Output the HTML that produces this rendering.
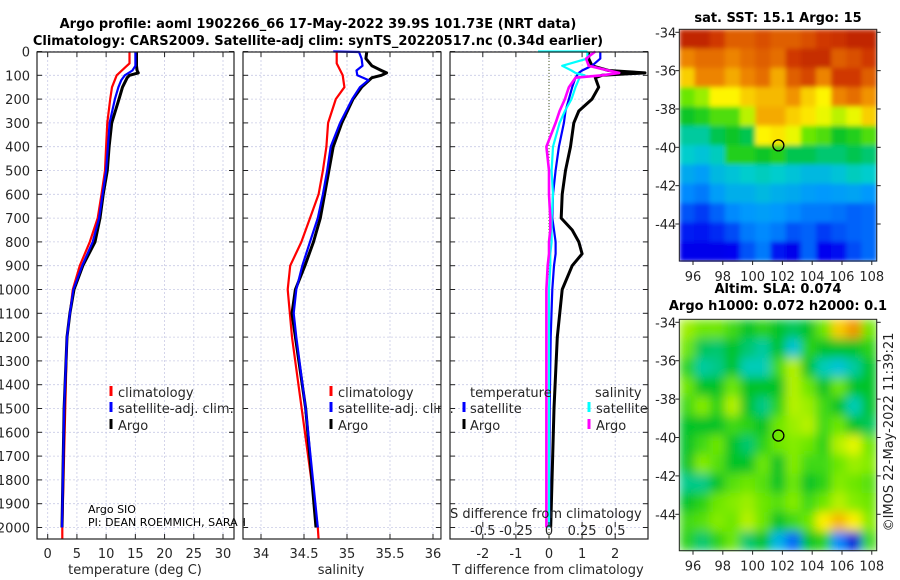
<!DOCTYPE html>
<html><head><meta charset="utf-8"><style>
html,body{margin:0;padding:0;background:#fff;}
svg{display:block;font-family:"DejaVu Sans","Liberation Sans",sans-serif;}
</style></head><body>
<svg id="fig" width="900" height="580" viewBox="0 0 900 580" xmlns="http://www.w3.org/2000/svg">
<defs>
<filter id="blurSla" x="0" y="0" width="1" height="1"><feGaussianBlur stdDeviation="5" edgeMode="duplicate"/></filter>
<filter id="blurSst" x="0" y="0" width="1" height="1"><feGaussianBlur stdDeviation="2.5" edgeMode="duplicate"/></filter>
</defs>
<text x="318" y="28" font-size="13" font-weight="bold" text-anchor="middle" fill="#000">Argo profile: aoml 1902266_66 17-May-2022 39.9S 101.73E (NRT data)</text>
<text x="318" y="45" font-size="13" font-weight="bold" text-anchor="middle" fill="#000">Climatology: CARS2009. Satellite-adj clim: synTS_20220517.nc (0.34d earlier)</text>
<g id="plots"></g>
<text x="778" y="22" font-size="13" font-weight="bold" text-anchor="middle">sat. SST: 15.1 Argo: 15</text>
<text x="778" y="293" font-size="13" font-weight="bold" text-anchor="middle">Altim. SLA: 0.074</text>
<text x="778" y="310" font-size="13" font-weight="bold" text-anchor="middle">Argo h1000: 0.072 h2000: 0.1</text>
<text x="0" y="0" font-size="13" text-anchor="middle" fill="#222" transform="translate(893,432) rotate(-90)">©IMOS 22-May-2022 11:39:21</text>
</svg>
<script>
// ---------- data ----------
const depthTicks=[0,100,200,300,400,500,600,700,800,900,1000,1100,1200,1300,1400,1500,1600,1700,1800,1900,2000];
const tempTicks=[0,5,10,15,20,25,30];
const salTicks=[34,34.5,35,35.5,36];
const salTickLabels=["34","34.5","35","35.5","36"];
const tdTicks=[-2,-1,0,1,2];
const sdTicks=[-0.5,-0.25,0,0.25,0.5];
const sdTickLabels=["-0.5","-0.25","0","0.25","0.5"];

const argoDepth=[0,30,60,80,90,100,110,150,200,300,400,500,600,700,800,900,1000,1100,1200,1500,2000];
const argoTemp=[15.2,15.2,15.2,15.3,15.5,14.0,13.6,12.8,12.2,10.95,10.5,10.2,9.5,8.95,8.1,6.0,4.5,3.8,3.3,2.8,2.45];
const argoSal=[35.23,35.22,35.29,35.4,35.46,35.4,35.29,35.17,35.07,34.94,34.84,34.79,34.74,34.69,34.61,34.51,34.4,34.36,34.4,34.52,34.64];

const climDepth=[0,50,100,150,200,300,400,500,600,700,800,900,1000,1200,2000,2050];
const climTemp=[14.0,14.0,11.8,11.0,10.7,10.2,10.0,9.8,9.2,8.55,7.2,5.5,4.3,3.3,2.5,2.5];
const climSal=[34.88,34.88,34.95,34.97,34.87,34.78,34.76,34.72,34.67,34.57,34.47,34.34,34.31,34.36,34.66,34.67];

const satDepth=[0,2,30,60,80,100,120,150,200,300,400,500,600,700,800,900,1000,1100,1200,1500,2000];
const satTemp=[15.0,15.0,15.0,15.0,14.5,13.2,12.6,12.1,11.5,10.6,10.3,10.0,9.4,8.8,7.7,5.9,4.4,3.8,3.3,2.8,2.45];
const satSal=[34.84,35.14,35.17,35.18,35.11,35.12,35.25,35.15,35.06,34.92,34.81,34.77,34.72,34.66,34.57,34.48,34.41,34.38,34.41,34.52,34.66];

const dDepth=[0,30,60,80,90,100,110,150,200,250,300,400,500,600,700,750,800,850,900,1000,1200,1500,2000];
const argoTdiff=[1.2,1.2,1.3,1.8,2.9,1.6,1.4,1.5,1.3,0.9,0.75,0.65,0.5,0.4,0.37,0.7,0.9,1.0,0.7,0.4,0.25,0.15,0.05];
const satTdiff=[1.55,1.55,1.3,1.0,0.9,0.85,0.8,0.7,0.6,0.5,0.45,0.3,0.2,0.12,0.1,0.15,0.2,0.2,0.15,0.1,0.05,0.02,0.0];
const argoSdiff=[0.35,0.28,0.3,0.45,0.53,0.4,0.2,0.15,0.12,0.08,0.05,-0.02,0.0,0.0,0.01,0.01,0.0,0.0,-0.01,-0.02,-0.02,-0.02,-0.02];
const satSdiff=[0.29,0.29,0.1,0.17,0.2,0.27,0.23,0.2,0.17,0.12,0.08,0.03,0.02,0.03,0.02,0.02,0.02,0.01,0.01,0.0,0.0,0.0,0.0];

const sstLatTicks=[-34,-36,-38,-40,-42,-44];
const lonTicks=[96,98,100,102,104,106,108];
const sstGrid=[
[18.8,18.8,18.5,18,18,18.2,18,18,18.2,18.5,18.6,18.8,18.8],
[17.5,17.8,17.8,17.5,17.8,18,17.8,18.5,18.7,18.7,18,18.2,18.5],
[16.5,17.5,17.5,17,17.5,17.8,17,18,18.3,17.5,18.5,18.5,18],
[15,15.3,16,16,16.5,16.8,16.8,17.3,16.5,16,17.5,17.8,17.3],
[14.3,14.5,14.8,14.8,15.5,17,17,16.5,16.2,15.8,15.5,15.8,16.5],
[13.5,13.5,14,14.3,14,16,16.2,15.8,15,14.8,14.3,14.5,14.8],
[13.2,13.0,13.3,14.5,14.5,14.3,14.5,14,14,13.8,13.8,14,13.8],
[12.5,12.3,12.8,13,13.2,13.3,13.2,13,12.8,12.8,13,13.3,13.2],
[12,11.8,12.3,12.6,12.6,12.8,12.6,12.5,12.3,12.2,12.3,12.4,12.2],
[11.3,11,11.5,12,12.2,12.3,12.2,12,11.8,11.8,11.7,11.5,11.6],
[10.6,10.5,10.8,11.2,11.8,12,11.8,11.3,11.5,11,11.3,11.5,11.6],
[10.2,10.2,10.2,10.3,11.3,11.8,10.5,10.2,11.5,10.3,10.4,11.2,11.6]];
const slaGrid=[
[0.07,0.05,0.05,0.03,0,0.02,0,-0.02,0,0.05,0.15,0.2,0.05],
[0.05,-0.02,-0.03,0,-0.03,-0.05,0,-0.08,0.02,0,0,0,0.02],
[0.02,-0.05,-0.04,0,-0.06,-0.06,0.03,0.08,0,-0.06,-0.08,-0.05,0],
[0.05,0,0,0.05,0,0,0,0.08,0.05,0,0.05,0,0],
[0.03,0.06,0.02,0.08,0,-0.04,0.02,0.08,0.07,0.03,0,-0.06,0],
[0,0,0,0.03,0.02,0,0.05,0.07,0.08,0.03,0.05,0,-0.02],
[0,0.03,0.05,0,-0.03,0.02,0.05,0.06,0.05,0.02,0.08,0.1,0.05],
[0,0.06,0.04,0,0,0.05,0,0.06,0.03,0.03,0.05,0.07,0.06],
[-0.04,-0.04,0,0.04,0.05,0.04,0,0.05,0,0.02,0.06,0.05,0.04],
[0,0.02,0.05,0.06,0.07,0.05,0.04,0.06,0.03,0.05,0.08,0.06,0.05],
[0.03,0.04,0.06,0.05,0.08,0.05,0,0.03,0.05,0.12,0.17,0.12,0.06],
[0.02,-0.03,0.02,0.05,-0.03,0,-0.1,-0.18,0,0.02,-0.15,-0.28,0.03]];
const argoLon=[101.73];
const argoLat=[-39.9];

// ---------- drawing ----------
const NS='http://www.w3.org/2000/svg';
const root=document.getElementById('plots');
function mk(tag,attrs,parent){const e=document.createElementNS(NS,tag);for(const k in attrs)e.setAttribute(k,attrs[k]);(parent||root).appendChild(e);return e;}
const TOP=52,BOT=539;
const yD=d=>51.5+d*0.238;
function lin(d0,p0,d1,p1){return v=>p0+(v-d0)*(p1-p0)/(d1-d0);}
const panels=[
 {name:'temperature-panel',l:37,r:234,x:lin(0,47.7,30,223)},
 {name:'salinity-panel',l:243,r:441,x:lin(34,261,36,433)},
 {name:'difference-panel',l:450,r:648,x:lin(0,549,1,582.1)}
];
function frame(p,ticks){
  const g=mk('g',{});
  
  
  ticks.forEach(t=>{const x=p.x(t);const ln=mk('line',{x1:x,x2:x,y1:TOP,y2:BOT,stroke:'#c9cbe6','stroke-width':0.8,'stroke-dasharray':'2,2'},g);});
  depthTicks.forEach(d=>{const y=yD(d);const ln=mk('line',{x1:p.l,x2:p.r,y1:y,y2:y,stroke:'#c9cbe6','stroke-width':0.8,'stroke-dasharray':'2,2'},g);
    mk('line',{x1:p.l,x2:p.l+5,y1:y,y2:y,stroke:'#222'},g);mk('line',{x1:p.r-5,x2:p.r,y1:y,y2:y,stroke:'#222'},g);});
  ticks.forEach(t=>{const x=p.x(t);mk('line',{x1:x,x2:x,y1:BOT,y2:BOT-5,stroke:'#222'},g);mk('line',{x1:x,x2:x,y1:TOP,y2:TOP+5,stroke:'#222'},g);});
  return g;
}
function box(p){const b=mk('rect',{x:p.l,y:TOP,width:p.r-p.l,height:BOT-TOP,fill:'none',stroke:'#222','stroke-width':1.2});}
function line(p,xs,ds,color,w,name,fx){
  const f=fx||p.x;
  const pts=xs.map((v,i)=>f(v).toFixed(1)+','+yD(ds[i]).toFixed(1)).join(' ');
  const e=mk('polyline',{points:pts,fill:'none',stroke:color,'stroke-width':w,'stroke-linejoin':'round'});
  
  
}
function txt(x,y,s,opt,name){const e=mk('text',Object.assign({x:x,y:y,'font-size':13,fill:'#262626'},opt||{}));e.textContent=s;return e;}
function legMark(x,y,c,name){const e=mk('line',{x1:x,x2:x,y1:y-11,y2:y-1,stroke:c,'stroke-width':3});}

depthTicks.forEach(d=>txt(30,yD(d)+5,String(d),{'text-anchor':'end'},'y-tick-label'));

// panel 1
const p1=panels[0];frame(p1,tempTicks);
line(p1,climTemp,climDepth,'#ff0000',2.2,'temp-climatology-line');
line(p1,argoTemp,argoDepth,'#000',3,'temp-argo-line');
line(p1,satTemp,satDepth,'#0000ff',2.2,'temp-satellite-line');
tempTicks.forEach(t=>txt(p1.x(t),558,String(t),{'text-anchor':'middle'},'temp-tick-label'));
txt(135,574,'temperature (deg C)',{'text-anchor':'middle'},'temp-axis-title');
legMark(111,397,'#ff0000','legend-climatology-mark');txt(118,397,'climatology',{},'legend-climatology');
legMark(111,413,'#0000ff','legend-satellite-mark');txt(118,413,'satellite-adj. clim.',{},'legend-satellite-adj');
legMark(111,430,'#000','legend-argo-mark');txt(118,430,'Argo',{},'legend-argo');
txt(88,513,'Argo SIO',{'font-size':11,fill:'#000'},'data-centre-label');
txt(88,526,'PI: DEAN ROEMMICH, SARAH',{'font-size':11,fill:'#000'},'pi-label');
box(p1);

// panel 2
const p2=panels[1];frame(p2,salTicks);
mk('rect',{x:238,y:500,width:5,height:30,fill:'#fff'});
line(p2,climSal,climDepth,'#ff0000',2.2,'sal-climatology-line');
line(p2,argoSal,argoDepth,'#000',3,'sal-argo-line');
line(p2,satSal,satDepth,'#0000ff',2.2,'sal-satellite-line');
salTicks.forEach((t,i)=>txt(p2.x(t),558,salTickLabels[i],{'text-anchor':'middle'},'sal-tick-label'));
txt(341,574,'salinity',{'text-anchor':'middle'},'sal-axis-title');
legMark(331,397,'#ff0000','legend2-climatology-mark');txt(338,397,'climatology',{},'legend2-climatology');
legMark(331,413,'#0000ff','legend2-satellite-mark');txt(338,413,'satellite-adj. clim.',{},'legend2-satellite-adj');
legMark(331,430,'#000','legend2-argo-mark');txt(338,430,'Argo',{},'legend2-argo');
box(p2);
mk('rect',{x:441.6,y:380,width:8,height:160,fill:'#fff'});

// panel 3
const p3=panels[2];frame(p3,tdTicks);
const zl=mk('line',{x1:p3.x(0),x2:p3.x(0),y1:TOP,y2:BOT,stroke:'#4a5a20','stroke-width':1,'stroke-dasharray':'1,2'});

const sx=v=>p3.x(v*4);
line(p3,argoTdiff,dDepth,'#000',3,'tdiff-argo-line');
line(p3,satTdiff,dDepth,'#0000ff',2.2,'tdiff-satellite-line');
line(p3,satSdiff,dDepth,'#00ffff',2.2,'sdiff-satellite-line',sx);
mk('line',{x1:538,x2:sx(satSdiff[0]),y1:yD(0),y2:yD(0),stroke:'#00ffff','stroke-width':2.2});
line(p3,argoSdiff,dDepth,'#ff00ff',2.6,'sdiff-argo-line',sx);
tdTicks.forEach(t=>txt(p3.x(t),558,String(t),{'text-anchor':'middle'},'tdiff-tick-label'));
txt(548,574,'T difference from climatology',{'text-anchor':'middle'},'tdiff-axis-title');
sdTicks.forEach((t,i)=>{const x=sx(t);mk('line',{x1:x,x2:x,y1:527,y2:522,stroke:'#222'});txt(x,535,sdTickLabels[i],{'text-anchor':'middle'},'sdiff-tick-label');});
txt(450,518,'S difference from climatology',{},'sdiff-axis-title');
txt(470,397,'temperature',{},'legend3-temperature-header');
legMark(464,413,'#0000ff','legend3-t-satellite-mark');txt(470,413,'satellite',{},'legend3-t-satellite');
legMark(464,430,'#000','legend3-t-argo-mark');txt(470,430,'Argo',{},'legend3-t-argo');
txt(595,397,'salinity',{},'legend3-salinity-header');
legMark(589,413,'#00ffff','legend3-s-satellite-mark');txt(596,413,'satellite',{},'legend3-s-satellite');
legMark(589,430,'#ff00ff','legend3-s-argo-mark');txt(596,430,'Argo',{},'legend3-s-argo');
box(p3);

// ---------- maps ----------
const CSTOPS=[[0,0,0,130],[0.12,0,0,240],[0.3,0,150,255],[0.4,0,205,205],[0.5,0,195,40],[0.58,120,235,0],[0.66,255,250,0],[0.8,240,140,0],[0.9,210,60,0],[1,160,0,0]];
function cmap(t){t=Math.max(0,Math.min(1,t));
  for(let i=1;i<CSTOPS.length;i++){const a=CSTOPS[i-1],b=CSTOPS[i];if(t<=b[0]){const f=(t-a[0])/(b[0]-a[0]);
    return 'rgb('+Math.round(a[1]+f*(b[1]-a[1]))+','+Math.round(a[2]+f*(b[2]-a[2]))+','+Math.round(a[3]+f*(b[3]-a[3]))+')';}}
  return 'rgb(160,0,0)';}
function drawMap(cfg){
  const g=mk('g',{});
  
  
  const L=679.3,R=876.7;
  const xL=lin(95.08,L,108.33,R), yL=lin(cfg.lat0,cfg.y0,cfg.lat1,cfg.y1);
  const rows=cfg.grid.length, cols=cfg.grid[0].length;
  const cw=(R-L)/cols, rh=(cfg.B-cfg.T)/rows;
  const cg=mk('g',{filter:cfg.filter},g);
  
  
  cfg.grid.forEach((row,i)=>row.forEach((v,j)=>{
    const c=mk('rect',{x:(L+j*cw).toFixed(2),y:(cfg.T+i*rh).toFixed(2),width:(cw+0.6).toFixed(2),height:(rh+0.6).toFixed(2),fill:cmap(cfg.norm(v))},cg);
    
    
  }));
  const fr=mk('rect',{x:L,y:cfg.T,width:R-L,height:cfg.B-cfg.T,fill:'none',stroke:'#222','stroke-width':1},g);
  
  sstLatTicks.forEach(la=>{const y=yL(la);mk('line',{x1:L-4,x2:L,y1:y,y2:y,stroke:'#222'},g);mk('line',{x1:R,x2:R+4,y1:y,y2:y,stroke:'#222'},g);
    txt(L-3,y+5,String(la),{'text-anchor':'end'},'lat-tick-label');});
  lonTicks.forEach(lo=>{const x=xL(lo);mk('line',{x1:x,x2:x,y1:cfg.B,y2:cfg.B+4,stroke:'#222'},g);txt(x,cfg.B+20,String(lo),{'text-anchor':'middle'},'lon-tick-label');});
  argoLon.forEach((lo,i)=>{const c=mk('circle',{cx:xL(lo),cy:yL(argoLat[i]),r:5.5,fill:'none',stroke:'#000','stroke-width':1.3},g);});
}
drawMap({name:'sst-map',grid:sstGrid,T:29.3,B:261,lat0:-34,y0:32.3,lat1:-44,y1:224,norm:v=>(v-9)/10.5,filter:'url(#blurSst)'});
drawMap({name:'sla-map',grid:slaGrid,T:319.3,B:550.7,lat0:-34,y0:322.3,lat1:-44,y1:514.3,norm:v=>0.5+v*1.45,filter:'url(#blurSla)'});
</script>
</body></html>
